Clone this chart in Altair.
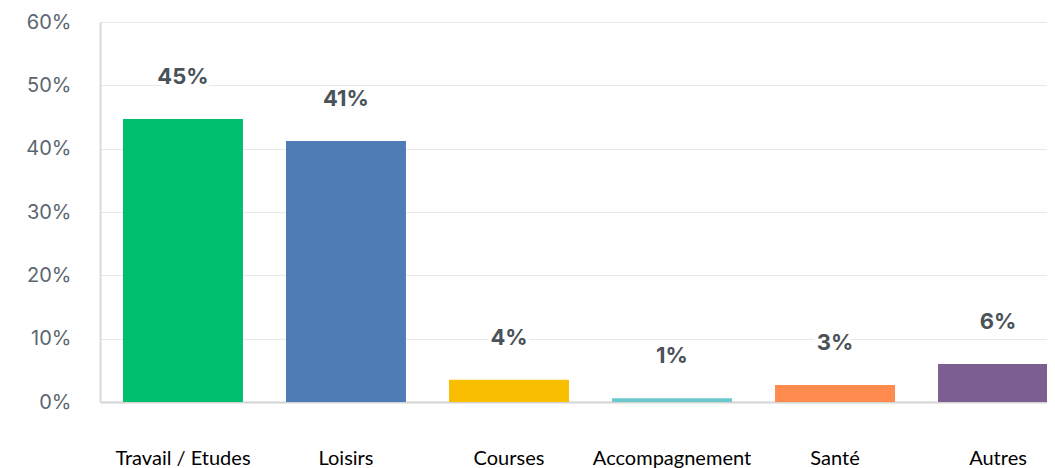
import altair as alt
import pandas as pd

categories = ["Travail / Etudes", "Loisirs", "Courses", "Accompagnement", "Santé", "Autres"]
values = [0.447, 0.412, 0.035, 0.006, 0.027, 0.060]
labels = ["45%", "41%", "4%", "1%", "3%", "6%"]
colors = ["#00BF6F", "#507CB6", "#F9BE00", "#6BC8CD", "#FF8B4F", "#7D5E90"]
y_ticks = [0, 0.1, 0.2, 0.3, 0.4, 0.5, 0.6]

df = pd.DataFrame({"cat": categories, "val": values, "lab": labels})

x = alt.X(
    "cat:N",
    sort=categories,
    scale=alt.Scale(range=[0, 981], paddingInner=0.264, paddingOuter=0.141),
    axis=alt.Axis(
        title=None, labelAngle=0, labelFont="Lato", labelFontSize=20,
        labelColor="#000000", labelPadding=62, labelBaseline="alphabetic",
        ticks=False, domainColor="#d4d4d4", domainWidth=2, grid=False,
    ),
)
y = alt.Y(
    "val:Q",
    scale=alt.Scale(domain=[0, 0.6], nice=False),
    axis=alt.Axis(
        title=None, format=".0%", values=y_ticks, labelFont="Inter",
        labelFontSize=20, labelColor="#5b6670", labelPadding=29, ticks=False,
        domainColor="#dadada", domainWidth=2, gridColor="#e8e8e8", gridWidth=1,
    ),
)

base = alt.Chart(df).encode(x=x, y=y)

bars = base.mark_bar(clip=True).encode(
    color=alt.Color("cat:N", sort=categories,
                    scale=alt.Scale(domain=categories, range=colors), legend=None)
)
halo = base.mark_text(
    dy=-42, baseline="middle", font="Inter", fontWeight="bold", fontSize=22,
    color="white", stroke="white", strokeWidth=8,
).encode(text="lab:N")
text = base.mark_text(
    dy=-42, baseline="middle", font="Inter", fontWeight="bold", fontSize=22,
    color="#4a525a",
).encode(text="lab:N")

chart = (
    alt.layer(bars, halo, text)
    .properties(
        width=947, height=380,
        autosize=alt.AutoSizeParams(type="none"),
        padding={"left": 92, "top": 14, "right": 0, "bottom": 66},
    )
    .configure_view(stroke=None)
)

chart.save("out.html", embed_options={"renderer": "svg", "actions": False})
